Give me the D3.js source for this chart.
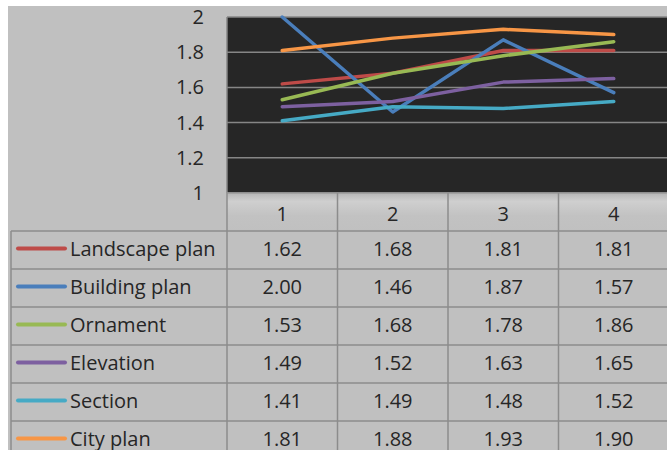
<!DOCTYPE html>
<html>
<head>
<meta charset="utf-8">
<script src="https://cdn.jsdelivr.net/npm/d3@7"></script>
<style>
  html, body { margin: 0; padding: 0; background: #ffffff; }
  svg { display: block; font-family: "Open Sans", sans-serif; }
</style>
</head>
<body>
<svg id="chart" width="667" height="450"></svg>
<script>
// Categories (periods) and series values
const categories = ["1", "2", "3", "4"];
const seriesNames = ["Landscape plan", "Building plan", "Ornament", "Elevation", "Section", "City plan"];
const landscapePlan = [1.62, 1.68, 1.81, 1.81];
const buildingPlan  = [2.00, 1.46, 1.87, 1.57];
const ornament      = [1.53, 1.68, 1.78, 1.86];
const elevation     = [1.49, 1.52, 1.63, 1.65];
const section       = [1.41, 1.49, 1.48, 1.52];
const cityPlan      = [1.81, 1.88, 1.93, 1.90];
const seriesColors  = ["#be4b48", "#4a7ebb", "#98b954", "#7d60a0", "#46aac5", "#f79646"];
const yTicks = [1, 1.2, 1.4, 1.6, 1.8, 2];

const seriesValues = [landscapePlan, buildingPlan, ornament, elevation, section, cityPlan];
const series = seriesNames.map((name, i) => ({ name, values: seriesValues[i], color: seriesColors[i] }));

const svg = d3.select("#chart");
const W = 667, H = 450;

const plotLeft = 227, plotTop = 17, plotBottom = 193, plotRight = 669;
const tableLeft = 11, headerBottom = 231, rowH = 38;
const gridColor = "#868686";
const textColor = "#262626";
const fontSize = 20;
const textShift = -1.5;

// Background
svg.append("rect").attr("x", 8).attr("y", 6).attr("width", W - 8).attr("height", H - 6).attr("fill", "#c0c0c0");

const x = d3.scaleBand().domain(categories).range([plotLeft, plotRight]).paddingInner(0).paddingOuter(0);
const y = d3.scaleLinear().domain([1, 2]).range([plotBottom, plotTop]);

// Plot area
svg.append("rect")
  .attr("x", plotLeft).attr("y", plotTop)
  .attr("width", plotRight - plotLeft).attr("height", plotBottom - plotTop)
  .attr("fill", "#262626");

// Gridlines
svg.append("g").selectAll("line")
  .data(yTicks)
  .join("line")
  .attr("x1", plotLeft).attr("x2", plotRight)
  .attr("y1", d => y(d)).attr("y2", d => y(d))
  .attr("stroke", gridColor).attr("stroke-width", 1.5);

// Plot left border
svg.append("line")
  .attr("x1", plotLeft).attr("x2", plotLeft)
  .attr("y1", plotTop).attr("y2", plotBottom)
  .attr("stroke", gridColor).attr("stroke-width", 1.5);

// Y axis labels
const yAxis = d3.axisLeft(y).tickValues(yTicks).tickFormat(d3.format("~g")).tickSize(0).tickPadding(23);
const yg = svg.append("g").attr("transform", `translate(${plotLeft},0)`).call(yAxis);
yg.select(".domain").remove();
yg.selectAll("text")
  .attr("font-family", "'Open Sans', sans-serif")
  .attr("font-size", fontSize)
  .attr("fill", textColor);

// Header row with soft shading
const defs = svg.append("defs");
const grad = defs.append("linearGradient").attr("id", "hdr").attr("x1", 0).attr("y1", 0).attr("x2", 0).attr("y2", 1);
grad.append("stop").attr("offset", "0%").attr("stop-color", "#b4b4b4");
grad.append("stop").attr("offset", "22%").attr("stop-color", "#cfcfcf");
grad.append("stop").attr("offset", "60%").attr("stop-color", "#c2c2c2");
grad.append("stop").attr("offset", "100%").attr("stop-color", "#c0c0c0");
svg.append("rect")
  .attr("x", plotLeft).attr("y", plotBottom)
  .attr("width", plotRight - plotLeft).attr("height", headerBottom - plotBottom)
  .attr("fill", "url(#hdr)");

// Header category labels
svg.append("g").selectAll("text")
  .data(categories)
  .join("text")
  .attr("x", d => x(d) + x.bandwidth() / 2)
  .attr("y", (plotBottom + headerBottom) / 2 + 1)
  .attr("text-anchor", "middle")
  .attr("dominant-baseline", "central")
  .attr("font-size", fontSize)
  .attr("fill", textColor)
  .text(d => d);

// Table grid
const nRows = series.length;
const tableBottom = headerBottom + rowH * nRows;
const tg = svg.append("g").attr("stroke", "#8c8c8c").attr("stroke-width", 1.5);
d3.range(nRows + 1).forEach(i => {
  tg.append("line")
    .attr("x1", tableLeft).attr("x2", plotRight)
    .attr("y1", headerBottom + i * rowH).attr("y2", headerBottom + i * rowH);
});
tg.append("line")
  .attr("x1", plotLeft).attr("x2", plotRight)
  .attr("y1", plotBottom).attr("y2", plotBottom)
  .attr("stroke", "#9a9a9a");
tg.append("line").attr("x1", tableLeft).attr("x2", tableLeft).attr("y1", headerBottom).attr("y2", tableBottom);
categories.forEach(c => {
  tg.append("line")
    .attr("x1", x(c)).attr("x2", x(c))
    .attr("y1", plotBottom).attr("y2", tableBottom);
});

// Table rows: legend key, name, values
const rows = svg.append("g").selectAll("g")
  .data(series)
  .join("g")
  .attr("transform", (d, i) => `translate(0,${headerBottom + i * rowH + rowH / 2})`);

rows.append("line")
  .attr("x1", 18).attr("x2", 65)
  .attr("y1", textShift).attr("y2", textShift)
  .attr("stroke", d => d.color)
  .attr("stroke-width", 4)
  .attr("stroke-linecap", "round");

rows.append("text")
  .attr("x", 70).attr("y", textShift)
  .attr("dominant-baseline", "central")
  .attr("font-size", fontSize)
  .attr("fill", textColor)
  .text(d => d.name);

rows.selectAll("text.val")
  .data(d => d.values.map((v, j) => ({ v, c: categories[j] })))
  .join("text")
  .attr("class", "val")
  .attr("x", d => x(d.c) + x.bandwidth() / 2)
  .attr("y", textShift)
  .attr("text-anchor", "middle")
  .attr("dominant-baseline", "central")
  .attr("font-size", fontSize)
  .attr("fill", textColor)
  .text(d => d3.format(".2f")(d.v));

// Series lines
const line = d3.line()
  .x((d, i) => x(categories[i]) + x.bandwidth() / 2)
  .y(d => y(d));

const clip = defs.append("clipPath").attr("id", "plotClip");
clip.append("rect").attr("x", plotLeft).attr("y", plotTop - 3).attr("width", plotRight - plotLeft).attr("height", plotBottom - plotTop + 3);

svg.append("g").attr("clip-path", "url(#plotClip)")
  .selectAll("path")
  .data(series)
  .join("path")
  .attr("d", d => line(d.values))
  .attr("fill", "none")
  .attr("stroke", d => d.color)
  .attr("stroke-width", 3.5)
  .attr("stroke-linejoin", "round")
  .attr("stroke-linecap", "round");
</script>
</body>
</html>
